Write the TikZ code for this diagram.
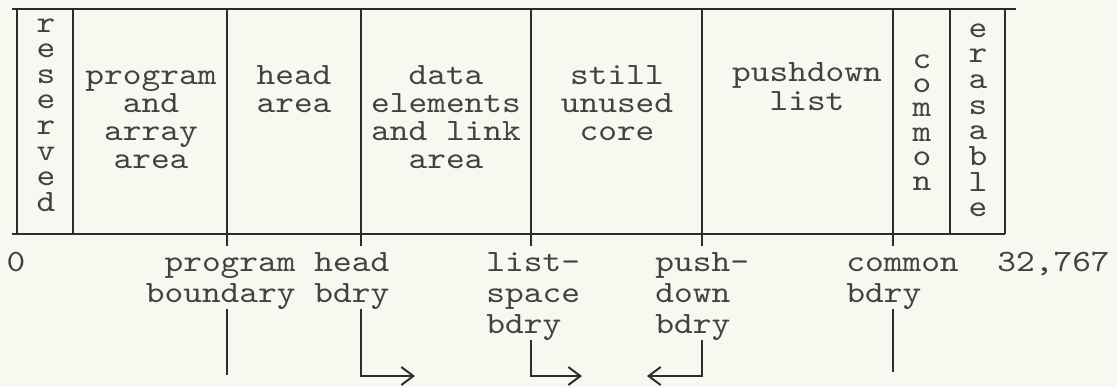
\documentclass[tikz,border=0pt]{standalone}
\usepackage{fontspec}
\newfontfamily\typewriter{lmmono10-regular}[Extension=.otf, FakeStretch=1.15]
\usetikzlibrary{arrows.meta}
\definecolor{paper}{RGB}{248,248,240}
\definecolor{ink}{RGB}{45,45,45}
\definecolor{typeink}{RGB}{66,66,66}

% Lines stacked at a fixed baseline pitch (#1); rows are separated by \\.
% The box's baseline is that of its first row.
\newcommand{\cstack}[2]{\vtop{\baselineskip=#1\relax\lineskiplimit=-\maxdimen\let\\\cr\halign{\hfil##\hfil\cr#2\crcr}}}
\newcommand{\lstack}[2]{\vtop{\baselineskip=#1\relax\lineskiplimit=-\maxdimen\let\\\cr\halign{##\hfil\cr#2\crcr}}}
\newcommand{\rstack}[2]{\vtop{\baselineskip=#1\relax\lineskiplimit=-\maxdimen\let\\\cr\halign{\hfil##\cr#2\crcr}}}

\begin{document}
\begin{tikzpicture}[x=0.5pt,y=-0.5pt,
  tw/.style={font=\fontsize{15.5pt}{15.5pt}\selectfont\typewriter, text=typeink, inner sep=0pt},
  rule/.style={draw=ink, line width=1.1pt},
  divider/.style={draw=ink, line width=0.8pt},
  pointer/.style={draw=ink, line width=0.8pt},
  go/.style={pointer, -{Straight Barb[length=6pt,width=9pt,line width=1pt]}}]

\fill[paper] (0,0) rectangle (1117,387);

% core memory map: top and bottom edges
\coordinate (tl) at (12,9);   \coordinate (tr) at (1016,9);
\coordinate (bl) at (12,234); \coordinate (br) at (1005,234);
\draw[rule] (tl) -- (tr);
\draw[rule] (bl) -- (br);

% fixed partitions
\foreach \x in {17,73,950,1005} \draw[divider] (\x,9) -- (\x,234);
% movable boundaries, ticked just below the bottom edge
\foreach \n/\x in {prog/227,head/361,list/531,push/702,common/893}{
  \coordinate (b\n) at (\x,9);
  \draw[divider] (b\n) -- (\x,246);
}

% area names
\node[tw,anchor=base] (reserved)   at (46,32)  {\cstack{12.8pt}{r\\e\\s\\e\\r\\v\\e\\d}};
\node[tw,anchor=base] (progarea)   at (151,84) {\cstack{14pt}{program\\and\\array\\area}};
\node[tw,anchor=base] (headarea)   at (294,84) {\cstack{14pt}{head\\area}};
\node[tw,anchor=base] (dataarea)   at (446,84) {\cstack{14pt}{data\\elements\\and link\\area}};
\node[tw,anchor=base] (unused)     at (617,84) {\cstack{14pt}{still\\unused\\core}};
\node[tw,anchor=base] (pushlist)   at (807,81) {\cstack{14.5pt}{pushdown\\list}};
\node[tw,anchor=base] (commonarea) at (922,68) {\cstack{12.2pt}{c\\o\\m\\m\\o\\n}};
\node[tw,anchor=base] (erasable)   at (978,37) {\cstack{12.85pt}{e\\r\\a\\s\\a\\b\\l\\e}};

% addresses and boundary names
\node[tw,anchor=base]      (zero)    at (16,271)  {0};
\node[tw,anchor=base east] (lprog)   at (296,271) {\rstack{15.5pt}{program\\boundary}};
\node[tw,anchor=base west] (lhead)   at (314,271) {\lstack{15.5pt}{head\\bdry}};
\node[tw,anchor=base west] (llist)   at (486,271) {\lstack{15.5pt}{list-\\space\\bdry}};
\node[tw,anchor=base west] (lpush)   at (655,271) {\lstack{15.5pt}{push-\\down\\bdry}};
\node[tw,anchor=base west] (lcommon) at (846,271) {\lstack{15.5pt}{common\\bdry}};
\node[tw,anchor=base west] (maxaddr) at (997,271) {32,767};

% boundary pointers and the direction in which each boundary moves
\coordinate (progend)   at (227,375);
\coordinate (headgo)    at (415,376);
\coordinate (listgo)    at (582,376);
\coordinate (pushgo)    at (647,376);
\coordinate (commonend) at (893,372);
\draw[pointer] (bprog |- lprog.south) -- (progend);
\draw[go] (bhead |- lhead.south) |- (headgo);
\draw[go] (blist |- llist.south) |- (listgo);
\draw[go] (bpush |- lpush.south) |- (pushgo);
\draw[pointer] (bcommon |- lcommon.south) -- (commonend);
\end{tikzpicture}
\end{document}
